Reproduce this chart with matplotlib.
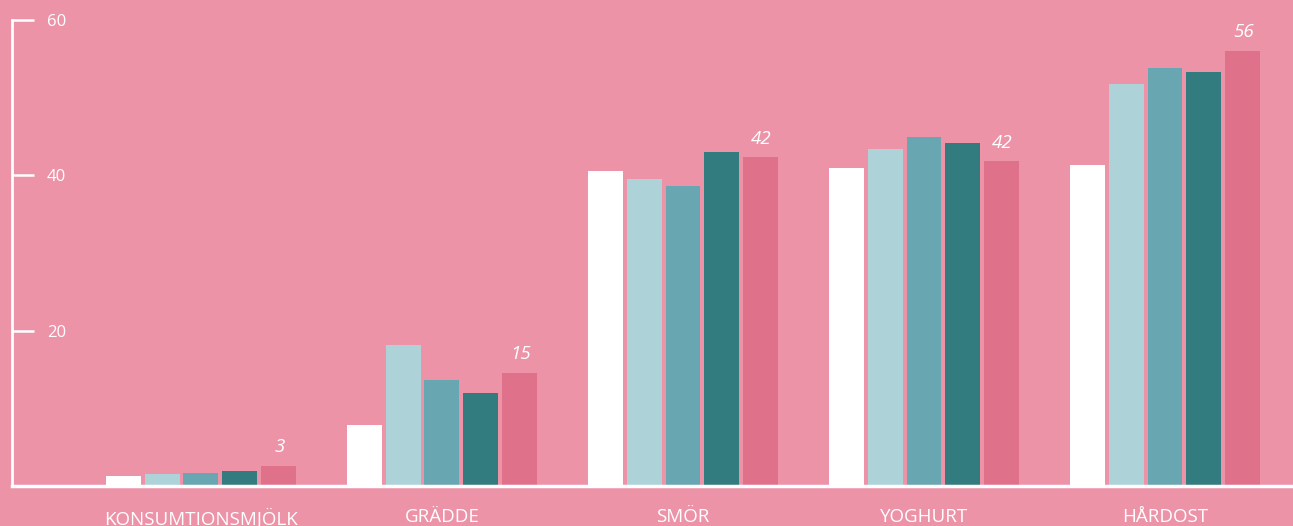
"""Dairy consumption grouped bar chart on a pink background."""

import matplotlib

matplotlib.use("Agg")
import matplotlib.pyplot as plt  # noqa: E402
import numpy as np  # noqa: E402

categories = ["KONSUMTIONSMJÖLK", "GRÄDDE", "SMÖR", "YOGHURT", "HÅRDOST"]
series_1 = [1.3, 7.9, 40.5, 40.9, 41.3]
series_2 = [1.5, 18.2, 39.5, 43.4, 51.7]
series_3 = [1.7, 13.7, 38.6, 45.0, 53.8]
series_4 = [1.9, 12.0, 43.0, 44.1, 53.3]
series_5 = [2.6, 14.6, 42.3, 41.8, 56.0]
series_5_labels = ["3", "15", "42", "42", "56"]
y_ticks = [20, 40, 60]

BG = "#ec93a8"
colors = ["#ffffff", "#add3d8", "#68a6b1", "#327b7e", "#e0718b"]

fig = plt.figure(figsize=(12.93, 5.26), dpi=100, facecolor=BG)
ax = fig.add_axes([12 / 1293, 40 / 526, 1281 / 1293, 466 / 526])
ax.set_facecolor(BG)

x = np.arange(len(categories))
step = 0.16
width = 0.145
all_series = [series_1, series_2, series_3, series_4, series_5]
for i, (vals, col) in enumerate(zip(all_series, colors)):
    ax.bar(x + (i - 2) * step, vals, width=width, color=col, zorder=2)

for xi, v, lab in zip(x, series_5, series_5_labels):
    ax.annotate(lab, (xi + 2 * step, v), xytext=(1, 7), textcoords="offset points",
                ha="center", va="bottom", color="white", fontsize=13.5,
                fontstyle="italic", fontfamily="Open Sans")

ax.set_xlim(-0.784, 4.531)
ax.set_ylim(0, 60)

for side in ["top", "right"]:
    ax.spines[side].set_visible(False)
ax.spines["left"].set_color("white")
ax.spines["left"].set_linewidth(2)
ax.spines["bottom"].set_color("white")
ax.spines["bottom"].set_linewidth(2.5)
ax.spines["bottom"].set_zorder(3)

ax.set_yticks(y_ticks)
ax.set_yticklabels([str(t) for t in y_ticks], fontfamily="Open Sans", fontsize=12)
ax.tick_params(axis="y", direction="in", length=16, width=1.8, color="white",
               labelcolor="white", pad=-39)
for lab in ax.get_yticklabels():
    lab.set_horizontalalignment("right")

ax.set_xticks(x)
ax.set_xticklabels(categories, fontfamily="Open Sans", fontsize=13.5)
ax.tick_params(axis="x", length=0, labelcolor="white", pad=16)

fig.savefig("out.png", dpi=100, facecolor=BG)
